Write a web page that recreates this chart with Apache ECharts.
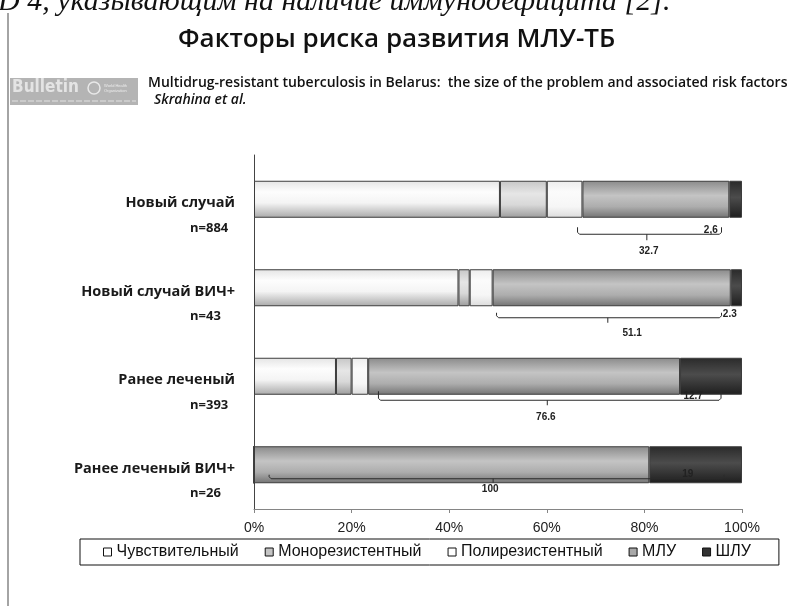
<!DOCTYPE html>
<html>
<head>
<meta charset="utf-8">
<script src="https://cdn.jsdelivr.net/npm/echarts@6/dist/echarts.min.js"></script>
<style>
  html, body { margin: 0; padding: 0; background: #ffffff; }
  #chart { width: 797px; height: 606px; }
</style>
</head>
<body>
<div id="chart"></div>
<script>
// Patient groups and group sizes
const categories = ['Новый случай', 'Новый случай ВИЧ+', 'Ранее леченый', 'Ранее леченый ВИЧ+'];
const sampleSizes = ['n=884', 'n=43', 'n=393', 'n=26'];

// Drug-susceptibility profile, % of each group
const sensitive = [50.4, 41.9, 16.8, 0];
const monoResistant = [9.6, 2.3, 3.2, 0];
const polyResistant = [7.3, 4.7, 3.4, 0];
const mdr = [30.1, 48.8, 63.9, 81];
const xdr = [2.6, 2.3, 12.7, 19];

// Brace annotations: MDR+XDR total and XDR share per group
const totalLabels = ['32.7', '51.1', '76.6', '100'];
const xdrLabels = ['2,6', '2.3', '12.7', '19'];
const braceFrom = [66.3, 49.7, 25.5, 3.1];
const braceTo = [95.8, 95.8, 95.7, 96.3];
const braceMid = [80.5, 72.5, 60.1, 49.0];
const totalLabelAt = [80.9, 77.5, 59.8, 48.4];
const xdrLabelAt = [93.6, 97.5, 90.0, 88.9];

const seriesNames = ['Чувствительный', 'Монорезистентный', 'Полирезистентный', 'МЛУ', 'ШЛУ'];

// Pixel geometry of each brace relative to its bar centre
const braceShape = [
  { dy: 35, hook: 7, tick: 6, totalDy: 52, xdrDy: 31 },
  { dy: 30, hook: 5, tick: 5, totalDy: 45, xdrDy: 26 },
  { dy: 24, hook: 9, tick: 5, totalDy: 41, xdrDy: 20 },
  { dy: 14, hook: 4, tick: 4, totalDy: 24, xdrDy: 9 }
];

function vgrad(stops) {
  return {
    type: 'linear', x: 0, y: 0, x2: 0, y2: 1,
    colorStops: stops.map(function (s) { return { offset: s[0], color: s[1] }; })
  };
}

const fills = [
  vgrad([[0, '#e4e4e4'], [0.3, '#fdfdfd'], [0.6, '#f4f4f4'], [1, '#a9a9a9']]),
  vgrad([[0, '#c6c6c6'], [0.35, '#e6e6e6'], [0.65, '#d8d8d8'], [1, '#9c9c9c']]),
  vgrad([[0, '#ececec'], [0.3, '#fbfbfb'], [0.7, '#f6f6f6'], [1, '#dcdcdc']]),
  vgrad([[0, '#8a8a8a'], [0.4, '#c4c4c4'], [0.7, '#adadad'], [1, '#737373']]),
  vgrad([[0, '#2a2a2a'], [0.45, '#4c4c4c'], [1, '#1e1e1e']])
];
const legendFills = ['#ffffff', '#c4c4c4', '#ffffff', '#a8a8a8', '#333333'];
const values = [sensitive, monoResistant, polyResistant, mdr, xdr];

const chart = echarts.init(document.getElementById('chart'), null, { renderer: 'canvas' });

const barSeries = seriesNames.map(function (name, i) {
  return {
    name: name,
    type: 'bar',
    stack: 'total',
    barWidth: 37,
    data: values[i],
    itemStyle: { color: fills[i], borderColor: '#3c3c3c', borderWidth: 1 },
    emphasis: { disabled: true },
    silent: true
  };
});

const braceData = categories.map(function (c, i) {
  return [braceFrom[i], braceTo[i], braceMid[i], i, totalLabelAt[i], xdrLabelAt[i]];
});

const braceSeries = {
  type: 'custom',
  silent: true,
  z: 10,
  data: braceData,
  renderItem: function (params, api) {
    const idx = api.value(3);
    const g = braceShape[idx];
    const pFrom = api.coord([api.value(0), idx]);
    const pTo = api.coord([api.value(1), idx]);
    const pMid = api.coord([api.value(2), idx]);
    const pTot = api.coord([api.value(4), idx]);
    const pXdr = api.coord([api.value(5), idx]);
    const yH = pFrom[1] + g.dy;
    const yTop = yH - g.hook;
    const line = { stroke: '#2b2b2b', lineWidth: 1, fill: null };
    const labelFont = { fontFamily: 'Liberation Sans', fontWeight: 'bold', fontSize: 10, fill: '#222', align: 'center', verticalAlign: 'middle' };
    return {
      type: 'group',
      children: [
        {
          type: 'polyline',
          shape: { points: [
            [pFrom[0], yTop], [pFrom[0], yH - 2], [pFrom[0] + 2, yH],
            [pTo[0] - 2, yH], [pTo[0], yH - 2], [pTo[0], yTop]
          ] },
          style: line
        },
        {
          type: 'line',
          shape: { x1: pMid[0], y1: yH, x2: pMid[0], y2: yH + g.tick },
          style: line
        },
        {
          type: 'text',
          x: pTot[0], y: pFrom[1] + g.totalDy,
          style: Object.assign({ text: totalLabels[idx] }, labelFont)
        },
        {
          type: 'text',
          x: pXdr[0], y: pFrom[1] + g.xdrDy,
          style: Object.assign({ text: xdrLabels[idx] }, labelFont)
        }
      ]
    };
  }
};

const option = {
  backgroundColor: '#ffffff',
  animation: false,
  grid: { left: 254, right: 55, top: 155, height: 354 },
  xAxis: {
    type: 'value',
    min: 0, max: 100, interval: 20,
    axisLine: { show: true, lineStyle: { color: '#858585', width: 1 } },
    axisTick: { show: true, length: 4, lineStyle: { color: '#858585' } },
    splitLine: { show: false },
    axisLabel: {
      formatter: '{value}%', margin: 12,
      fontFamily: 'Liberation Sans', fontSize: 14, color: '#222'
    }
  },
  yAxis: [
    {
      type: 'category', data: categories, inverse: true,
      axisLine: { show: true, lineStyle: { color: '#444', width: 1 } },
      axisTick: { show: false },
      axisLabel: {
        align: 'right', margin: 19, verticalAlign: 'top', lineHeight: 8,
        fontFamily: 'Open Sans', fontWeight: 'bold', fontSize: 14.5, color: '#1a1a1a'
      }
    },
    {
      type: 'category', data: sampleSizes, inverse: true, position: 'left',
      axisLine: { show: false }, axisTick: { show: false },
      axisLabel: {
        align: 'left', margin: 64, verticalAlign: 'top', lineHeight: 58,
        fontFamily: 'Open Sans', fontWeight: 'bold', fontSize: 13, color: '#1a1a1a'
      }
    }
  ],
  legend: {
    left: 80, top: 539,
    orient: 'horizontal',
    borderColor: '#111', borderWidth: 1,
    padding: [5, 28, 5, 23],
    itemGap: 26, itemWidth: 8, itemHeight: 8,
    icon: 'rect',
    selectedMode: false,
    textStyle: { fontFamily: 'Liberation Sans', fontSize: 16, color: '#111' },
    data: seriesNames.map(function (n, i) {
      return { name: n, itemStyle: { color: legendFills[i], borderColor: '#111', borderWidth: 1 } };
    })
  },
  graphic: [
    { type: 'line', shape: { x1: 8, y1: 13, x2: 8, y2: 606 }, style: { stroke: '#a4a4a4', lineWidth: 2 } },
    {
      type: 'text', x: -22, y: 17,
      style: {
        text: 'CD 4, указывающим на наличие иммунодефицита [2].',
        fontFamily: 'Liberation Serif', fontStyle: 'italic', fontSize: 30, fill: '#111',
        verticalAlign: 'bottom'
      }
    },
    {
      type: 'text', left: 178, top: 27,
      style: { text: 'Факторы риска развития МЛУ-ТБ', fontFamily: 'Open Sans', fontWeight: 600, fontSize: 26, fill: '#111' }
    },
    { type: 'rect', shape: { x: 10, y: 78, width: 128, height: 27 }, style: { fill: '#b4b4b4' } },
    {
      type: 'text', left: 12, top: 79,
      style: { text: 'Bulletin', fontFamily: 'DejaVu Sans Condensed', fontWeight: 'bold', fontSize: 17, fill: '#e4e4e4' }
    },
    { type: 'circle', shape: { cx: 94, cy: 88, r: 6 }, style: { fill: 'none', stroke: '#e8e8e8', lineWidth: 1.5 } },
    {
      type: 'text', left: 104, top: 83,
      style: { text: 'World Health\nOrganization', fontFamily: 'Liberation Sans', fontSize: 4, lineHeight: 5, fill: '#ececec' }
    },
    { type: 'line', shape: { x1: 12, y1: 101, x2: 136, y2: 101 }, style: { stroke: '#e2e2e2', lineWidth: 1, lineDash: [6, 2] } },
    {
      type: 'text', left: 148, top: 76,
      style: {
        text: 'Multidrug-resistant tuberculosis in Belarus:  the size of the problem and associated risk factors',
        fontFamily: 'Open Sans', fontWeight: 600, fontSize: 14, fill: '#111'
      }
    },
    {
      type: 'text', left: 154, top: 93,
      style: { text: 'Skrahina et al.', fontFamily: 'Open Sans', fontWeight: 600, fontStyle: 'italic', fontSize: 14, fill: '#111' }
    }
  ],
  series: barSeries.concat([braceSeries])
};

chart.setOption(option);
</script>
</body>
</html>
